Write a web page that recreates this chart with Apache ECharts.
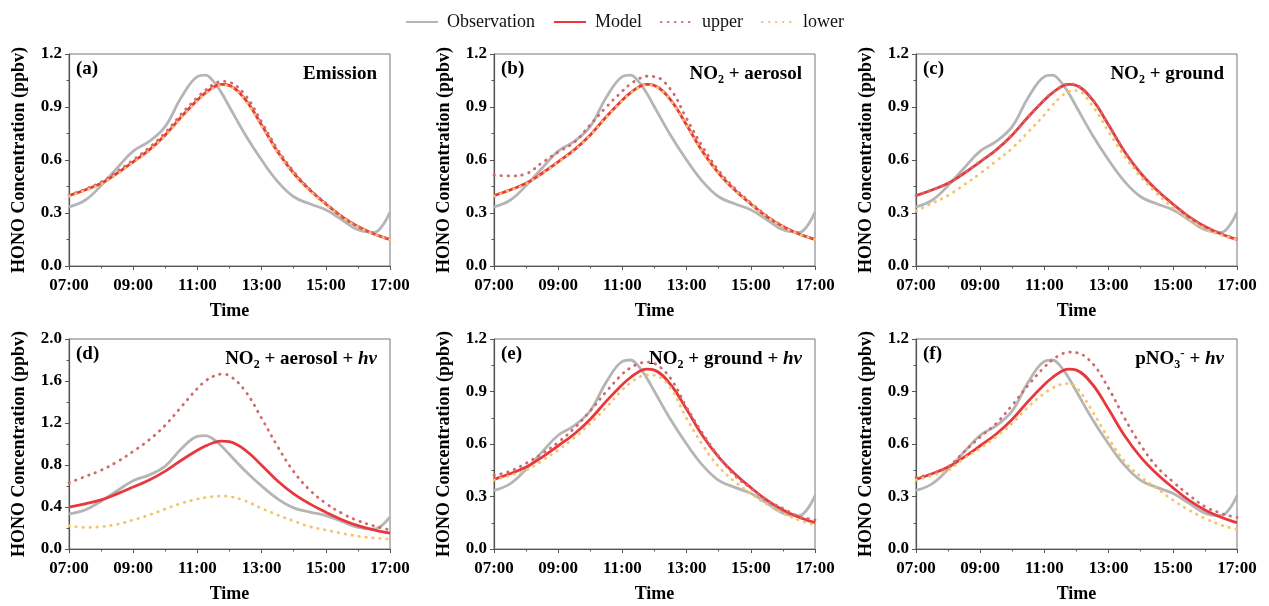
<!DOCTYPE html>
<html>
<head>
<meta charset="utf-8">
<script src="https://cdn.jsdelivr.net/npm/echarts@6/dist/echarts.min.js"></script>
<style>
html, body { margin: 0; padding: 0; background: #fff; }
#chart { width: 1269px; height: 606px; }
</style>
</head>
<body>
<div id="chart"></div>
<script>
// hours after 07:00 (half-hourly, extra points around the peak and at the end)
var hours = [0, 0.5, 1, 1.5, 2, 2.5, 3, 3.5, 4, 4.25, 4.5, 4.75, 5, 5.5, 6, 6.5, 7, 7.5, 8, 8.5, 9, 9.5, 9.75, 10];
var timeTicks = ['07:00', '09:00', '11:00', '13:00', '15:00', '17:00'];

var observation = [0.335, 0.372, 0.455, 0.555, 0.65, 0.705, 0.79, 0.955, 1.072, 1.08, 1.045, 0.98, 0.90, 0.74, 0.60, 0.478, 0.392, 0.352, 0.318, 0.262, 0.205, 0.19, 0.225, 0.305];
var model = [0.398, 0.43, 0.468, 0.525, 0.59, 0.657, 0.742, 0.845, 0.94, 0.98, 1.012, 1.028, 1.022, 0.94, 0.798, 0.647, 0.525, 0.43, 0.351, 0.279, 0.223, 0.181, 0.165, 0.151];

var upperA = [0.40, 0.435, 0.475, 0.535, 0.60, 0.67, 0.755, 0.86, 0.955, 0.995, 1.028, 1.045, 1.04, 0.965, 0.815, 0.66, 0.535, 0.435, 0.355, 0.282, 0.225, 0.182, 0.166, 0.151];
var lowerA = [0.395, 0.427, 0.464, 0.52, 0.585, 0.652, 0.737, 0.84, 0.935, 0.975, 1.007, 1.023, 1.017, 0.935, 0.793, 0.642, 0.52, 0.426, 0.348, 0.277, 0.221, 0.18, 0.164, 0.15];
var upperB = [0.515, 0.51, 0.522, 0.585, 0.645, 0.70, 0.80, 0.90, 0.99, 1.03, 1.058, 1.074, 1.072, 1.0, 0.835, 0.675, 0.54, 0.44, 0.358, 0.285, 0.226, 0.182, 0.166, 0.151];
var lowerB = [0.396, 0.428, 0.465, 0.522, 0.587, 0.654, 0.739, 0.842, 0.937, 0.977, 1.009, 1.025, 1.019, 0.937, 0.795, 0.644, 0.522, 0.428, 0.349, 0.278, 0.222, 0.18, 0.164, 0.15];
var upperC = [0.399, 0.431, 0.469, 0.527, 0.592, 0.659, 0.744, 0.847, 0.942, 0.982, 1.014, 1.03, 1.024, 0.942, 0.80, 0.649, 0.527, 0.432, 0.352, 0.28, 0.224, 0.182, 0.166, 0.151];
var lowerC = [0.312, 0.355, 0.40, 0.46, 0.524, 0.595, 0.667, 0.76, 0.856, 0.91, 0.955, 0.988, 0.993, 0.905, 0.76, 0.62, 0.505, 0.41, 0.33, 0.265, 0.21, 0.175, 0.162, 0.15];
var upperD = [0.63, 0.69, 0.75, 0.83, 0.93, 1.04, 1.18, 1.355, 1.53, 1.60, 1.645, 1.665, 1.65, 1.50, 1.245, 0.975, 0.737, 0.562, 0.435, 0.34, 0.27, 0.22, 0.20, 0.18];
var lowerD = [0.222, 0.205, 0.213, 0.235, 0.276, 0.324, 0.381, 0.435, 0.476, 0.49, 0.50, 0.505, 0.50, 0.457, 0.387, 0.324, 0.267, 0.213, 0.181, 0.149, 0.122, 0.105, 0.10, 0.095];
var upperE = [0.42, 0.445, 0.49, 0.545, 0.61, 0.69, 0.79, 0.90, 1.0, 1.035, 1.058, 1.068, 1.06, 0.975, 0.81, 0.66, 0.53, 0.42, 0.347, 0.28, 0.232, 0.185, 0.175, 0.166];
var lowerE = [0.394, 0.42, 0.45, 0.505, 0.566, 0.635, 0.718, 0.81, 0.91, 0.95, 0.98, 0.995, 0.993, 0.92, 0.747, 0.594, 0.47, 0.385, 0.318, 0.255, 0.204, 0.165, 0.15, 0.137];
var upperF = [0.41, 0.43, 0.47, 0.556, 0.64, 0.718, 0.823, 0.937, 1.04, 1.08, 1.11, 1.125, 1.122, 1.06, 0.918, 0.747, 0.594, 0.47, 0.385, 0.309, 0.242, 0.204, 0.19, 0.18];
var lowerF = [0.394, 0.42, 0.45, 0.518, 0.575, 0.642, 0.718, 0.813, 0.89, 0.92, 0.94, 0.945, 0.925, 0.785, 0.632, 0.50, 0.413, 0.347, 0.28, 0.223, 0.175, 0.137, 0.123, 0.112];

var uppers = [upperA, upperB, upperC, upperD, upperE, upperF];
var lowers = [lowerA, lowerB, lowerC, lowerD, lowerE, lowerF];
var yMax = [1.2, 1.2, 1.2, 2.0, 1.2, 1.2];
var yStep = [0.3, 0.3, 0.3, 0.4, 0.3, 0.3];
var panelTags = ['(a)', '(b)', '(c)', '(d)', '(e)', '(f)'];
var panelNames = [
    'Emission',
    'NO{sub|2} + aerosol',
    'NO{sub|2} + ground',
    'NO{sub|2} + aerosol + {i|hν}',
    'NO{sub|2} + ground + {i|hν}',
    'pNO{sub|3}{sup|-} + {i|hν}'
];

var serif = 'Liberation Serif';
var grids = [
    { left: 69, top: 54, width: 321, height: 212 },
    { left: 494, top: 54, width: 321, height: 212 },
    { left: 916, top: 54, width: 321, height: 212 },
    { left: 69, top: 339, width: 321, height: 210 },
    { left: 494, top: 339, width: 321, height: 210 },
    { left: 916, top: 339, width: 321, height: 210 }
];

function pair(vals) {
    return hours.map(function(h, i) { return [h, vals[i]]; });
}

var xAxis = [], yAxis = [], series = [], titles = [];
for (let i = 0; i < 6; i++) {
    grids[i].show = true;
    grids[i].borderColor = '#777';
    grids[i].borderWidth = 1;
    xAxis.push({
        gridIndex: i, type: 'value', min: 0, max: 10, interval: 2,
        name: 'Time', nameLocation: 'middle', nameGap: 36,
        nameTextStyle: { fontFamily: serif, fontWeight: 'bold', fontSize: 18, color: '#000' },
        axisLine: { show: true, lineStyle: { color: '#555', width: 1.2 } },
        axisTick: { show: true, length: 4, lineStyle: { color: '#555' } },
        minorTick: { show: true, splitNumber: 2, length: 2.5, lineStyle: { color: '#555' } },
        axisLabel: {
            fontFamily: serif, fontWeight: 'bold', fontSize: 17, color: '#000', margin: 11,
            formatter: function(v) { return timeTicks[Math.round(v / 2)]; }
        },
        splitLine: { show: false }
    });
    yAxis.push({
        gridIndex: i, type: 'value', min: 0, max: yMax[i], interval: yStep[i],
        name: 'HONO Concentration (ppbv)', nameLocation: 'middle', nameGap: 41,
        nameTextStyle: { fontFamily: serif, fontWeight: 'bold', fontSize: 18, color: '#000' },
        axisLine: { show: true, lineStyle: { color: '#555', width: 1.2 } },
        axisTick: { show: true, length: 4, lineStyle: { color: '#555' } },
        minorTick: { show: true, splitNumber: 2, length: 2.5, lineStyle: { color: '#555' } },
        axisLabel: {
            fontFamily: serif, fontWeight: 'bold', fontSize: 17, color: '#000', margin: 7,
            formatter: function(v) { return v.toFixed(1); }
        },
        splitLine: { show: false }
    });
    var g = grids[i];
    titles.push({
        text: panelTags[i], left: g.left + 7, top: g.top + 4, padding: 0,
        textStyle: { fontFamily: serif, fontWeight: 'bold', fontSize: 19, color: '#000', lineHeight: 22 }
    });
    titles.push({
        text: panelNames[i], right: 1269 - (g.left + g.width - 13), top: g.top + 8, padding: 0,
        textStyle: {
            fontFamily: serif, fontWeight: 'bold', fontSize: 19, color: '#000', lineHeight: 24,
            rich: {
                sub: { fontFamily: serif, fontWeight: 'bold', fontSize: 12, lineHeight: 12, verticalAlign: 'bottom', color: '#000' },
                sup: { fontFamily: serif, fontWeight: 'bold', fontSize: 13, lineHeight: 13, verticalAlign: 'top', color: '#000' },
                i: { fontFamily: serif, fontWeight: 'bold', fontStyle: 'italic', fontSize: 19, lineHeight: 24, color: '#000' }
            }
        }
    });
    series.push({
        name: 'Observation', type: 'line', xAxisIndex: i, yAxisIndex: i, smooth: 0.4,
        symbol: 'none', showSymbol: false, data: pair(observation),
        lineStyle: { color: '#b5b5b5', width: 2.8 }, itemStyle: { color: '#b5b5b5' }
    });
    series.push({
        name: 'Model', type: 'line', xAxisIndex: i, yAxisIndex: i, smooth: 0.4,
        symbol: 'none', showSymbol: false, data: pair(model),
        lineStyle: { color: '#e8383d', width: 2.8 }, itemStyle: { color: '#e8383d' }
    });
    series.push({
        name: 'upper', type: 'line', xAxisIndex: i, yAxisIndex: i, smooth: 0.4,
        symbol: 'none', showSymbol: false, data: pair(uppers[i]),
        lineStyle: { color: '#cf6a68', width: 2.8, type: [0.5, 6.5], cap: 'round' }, itemStyle: { color: '#cf6a68' }
    });
    series.push({
        name: 'lower', type: 'line', xAxisIndex: i, yAxisIndex: i, smooth: 0.4,
        symbol: 'none', showSymbol: false, data: pair(lowers[i]),
        lineStyle: { color: '#f5c46a', width: 2.8, type: [0.5, 6.5], cap: 'round' }, itemStyle: { color: '#f5c46a' }
    });
}

var myChart = echarts.init(document.getElementById('chart'), null, { renderer: 'canvas' });
myChart.setOption({
    animation: false,
    backgroundColor: '#fff',
    title: titles,
    legend: {
        left: 400, top: 8, itemWidth: 32, itemHeight: 14, itemGap: 18,
        itemStyle: { opacity: 0 },
        data: ['Observation', 'Model', 'upper', 'lower'],
        textStyle: { fontFamily: serif, fontSize: 18, color: '#111', padding: [0, 0, 0, 4] }
    },
    grid: grids,
    xAxis: xAxis,
    yAxis: yAxis,
    series: series
});
</script>
</body>
</html>
